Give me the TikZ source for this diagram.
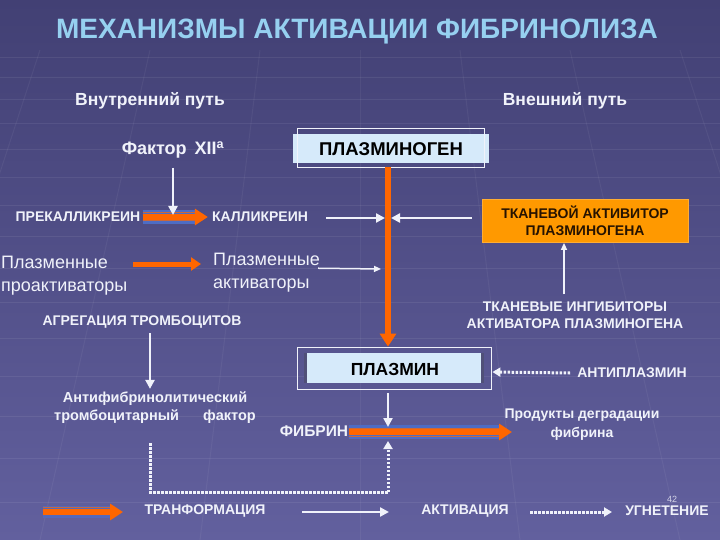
\documentclass[tikz,border=0pt]{standalone}
\usepackage{fontspec}
\setmainfont{Liberation Sans}
\usetikzlibrary{arrows.meta,calc}
\definecolor{bgtop}{RGB}{66,64,116}
\definecolor{bgbot}{RGB}{98,96,158}
\definecolor{ttl}{RGB}{150,208,240}
\definecolor{org}{RGB}{255,102,0}
\definecolor{amber}{RGB}{255,153,0}
\definecolor{pale}{RGB}{214,234,250}
\definecolor{wht}{RGB}{240,242,250}
\definecolor{band}{RGB}{78,108,196}
\definecolor{edge}{RGB}{80,80,120}
\begin{document}
\begin{tikzpicture}[x=1pt,y=-1pt,
  lbl/.style={text=wht, font=\bfseries\fontsize{14}{15}\selectfont, align=center, inner sep=1pt},
  big/.style={text=wht, font=\bfseries\fontsize{17.5}{19}\selectfont, inner sep=1pt},
  reg/.style={text=wht, font=\fontsize{18}{23}\selectfont, align=left, inner sep=1pt},
  boxtxt/.style={text=black, font=\bfseries\fontsize{17.5}{19}\selectfont, inner sep=0pt},
  frame/.style={draw=wht, line width=0.8pt, inner sep=0pt},
  warrow/.style={draw=wht, line width=2.5pt, -{Triangle[length=9pt,width=9pt]}},
  thinw/.style={draw=wht, line width=1.5pt, -{Triangle[length=7pt,width=6pt]}},
  dotarrow/.style={draw=wht, line width=3pt, dash pattern=on 2.5pt off 1.5pt, -{Triangle[length=8pt,width=9pt]}},
  dotline/.style={draw=wht, line width=3pt, dash pattern=on 2.5pt off 1.5pt},
  oarrow/.style={draw=org, line width=6pt, -{Triangle[length=13pt,width=16pt]}},
  bandline/.style={draw=band, line width=14pt},
  edgeline/.style={draw=org!70!band, line width=1pt},
]
% background
\shade[top color=bgtop, bottom color=bgbot] (0,0) rectangle (720,540);
\useasboundingbox (0,0) rectangle (720,540);
\foreach \yy in {58,78,100,124,150,178,206,236,268,302,338,376,416,458,502} {
  \draw[white, opacity=0.07, line width=1pt] (0,\yy) -- (720,\yy);
}
\foreach \xx/\xb in {40/-120,150/40,260/200,360/360,460/520,570/680,680/840} {
  \draw[white, opacity=0.05, line width=1pt] (\xx,50) -- (\xb,540);
}

% title and headers
\node[text=ttl, font=\bfseries\fontsize{28}{32}\selectfont] (title) at (357,32) {МЕХАНИЗМЫ АКТИВАЦИИ ФИБРИНОЛИЗА};
\node[big] (inner) at (150,101) {Внутренний путь};
\node[big] (outer) at (565,101) {Внешний путь};
\node[big, font=\bfseries\fontsize{18}{20}\selectfont] (f12) at (173,150) {Фактор\, XII\textsuperscript{а}};

% plasminogen
\node[fill=pale, minimum width=196pt, minimum height=29pt, inner sep=0pt] (pg) at (391,148.5) {};
\node[frame, minimum width=187pt, minimum height=39pt] (pgf) at (390.5,147.5) {};
\node[boxtxt, font=\bfseries\fontsize{18.5}{20}\selectfont] (pgt) at (391,149) {ПЛАЗМИНОГЕН};

% plasmin
\node[fill=pale, minimum width=180pt, minimum height=30pt, inner sep=0pt] (pm) at (394,368) {};
\fill[edge] (pm.north west) rectangle ($(pm.south west)+(3,0)$);
\fill[edge] ($(pm.north east)+(-3,0)$) rectangle (pm.south east);
\node[frame, minimum width=194pt, minimum height=42pt] (pmf) at (394,368) {};
\node[boxtxt] (pmt) at (395,369) {ПЛАЗМИН};

\coordinate (ox) at (388,0);
\draw[oarrow] (ox |- pgf.south) -- (ox |- pmf.north);

% intrinsic pathway
\node[lbl] (prek) at (78,217) {ПРЕКАЛЛИКРЕИН};
\node[lbl] (kal) at (260,217) {КАЛЛИКРЕИН};
\draw[bandline] ($(prek.east)+(1,0)$) -- ($(kal.west)+(-14,0)$);
\draw[edgeline] ($(prek.east)+(1,-4)$) -- ($(kal.west)+(-14,-4)$);
\draw[edgeline] ($(prek.east)+(1,4)$) -- ($(kal.west)+(-14,4)$);
\draw[oarrow] ($(prek.east)+(1,0)$) -- ($(kal.west)+(-3,0)$);
\coordinate (f12hit) at (173,215);
\draw[warrow] (f12.south) ++(0,8) coordinate (f12top) -- (f12hit);

\coordinate (xkal) at (385,218);
\coordinate (xtpa) at (391,218);
\draw[warrow] ($(kal.east)+(17,1)$) -- (xkal);

% tissue activator
\node[fill=amber, draw=amber!80!white, line width=0.8pt, minimum width=206pt, minimum height=43pt, align=center,
  text=black!85!orange, font=\bfseries\fontsize{14}{17}\selectfont] (tpa) at (585,221) {ТКАНЕВОЙ АКТИВИТОР\\ПЛАЗМИНОГЕНА};
\draw[warrow] ($(tpa.west)+(-10,-3)$) -- (xtpa);
\node[lbl, font=\bfseries\fontsize{14}{17}\selectfont] (tia) at (575,315) {ТКАНЕВЫЕ ИНГИБИТОРЫ\\АКТИВАТОРА ПЛАЗМИНОГЕНА};
\coordinate (ax) at (564,0);
\draw[thinw] ($(ax |- tia.north)+(0,-6)$) -- (ax |- tpa.south);

% plasma activators
\node[reg, anchor=west] (pp) at (0,275.5) {Плазменные\\проактиваторы};
\node[reg, anchor=west] (pa) at (212,273) {Плазменные\\активаторы};
\coordinate (ppend) at (201,264);
\draw[draw=org, line width=5pt, -{Triangle[length=10pt,width=13pt]}] (133,264) coordinate (ppstart) -- (ppend);
\coordinate (paend) at (381,269);
\draw[thinw] ($(pa.north east)+(-3,16)$) -- (paend);

% platelets
\node[lbl] (agr) at (142,322) {АГРЕГАЦИЯ ТРОМБОЦИТОВ};
\node[lbl, font=\bfseries\fontsize{14.5}{18}\selectfont] (afib) at (155,408) {Антифибринолитический\\тромбоцитарный\hspace{24pt}фактор};
\coordinate (px) at (150,0);
\draw[warrow] ($(px |- agr.south)+(0,4)$) -- ($(px |- afib.north)+(0,-2)$);

% fibrin
\node[lbl, font=\bfseries\fontsize{15.5}{17}\selectfont] (fib) at (314,431) {ФИБРИН};
\node[lbl, font=\bfseries\fontsize{14}{19}\selectfont] (prod) at (582,425) {Продукты деградации\\фибрина};
\coordinate (fibend) at (512,432);
\draw[bandline] ($(fib.east)+(0,1)$) -- ($(fibend)+(-12,0)$);
\draw[edgeline] ($(fib.east)+(0,-3)$) -- ($(fibend)+(-12,-4)$);
\draw[edgeline] ($(fib.east)+(0,5)$) -- ($(fibend)+(-12,4)$);
\draw[oarrow] ($(fib.east)+(0,1)$) -- (fibend);
\draw[warrow] ($(ox |- pmf.south)+(0,4)$) -- ($(ox |- fibend)+(0,-5)$);

% dotted inhibition from platelets factor
\coordinate (dcorner1) at (150,492);
\coordinate (dcorner2) at (388,492);
\draw[dotline] ($(px |- afib.south)+(0,18)$) -- (dcorner1) -- (dcorner2);
\draw[dotarrow] (dcorner2) -- ($(ox |- fibend)+(0,9)$);

% antiplasmin
\node[lbl] (antip) at (632,373) {АНТИПЛАЗМИН};
\draw[dotarrow] ($(antip.west)+(-6,0)$) -- ($(pmf.east)+(1,4)$);

% legend
\coordinate (l1a) at (43,512);
\coordinate (l1b) at (123,512);
\draw[bandline, draw=band!70!bgbot, line width=12pt] (l1a) -- ($(l1b)+(-12,0)$);
\draw[edgeline] ($(l1a)+(0,-5)$) -- ($(l1b)+(-12,-5)$);
\draw[oarrow] (l1a) -- (l1b);
\node[lbl] (ltrans) at (205,511) {ТРАНФОРМАЦИЯ};
\coordinate (l2a) at (302,512);
\coordinate (l2b) at (389,512);
\draw[warrow] (l2a) -- (l2b);
\node[lbl] (lact) at (465,511) {АКТИВАЦИЯ};
\coordinate (l3a) at (530,512);
\coordinate (l3b) at (612,512);
\draw[dotarrow] (l3a) -- (l3b);
\node[lbl] (lugn) at (667,511) {УГНЕТЕНИЕ};
\node[text=wht!80!bgbot, font=\fontsize{9}{10}\selectfont, inner sep=0pt] (pnum) at (672,499) {42};
\end{tikzpicture}
\end{document}
